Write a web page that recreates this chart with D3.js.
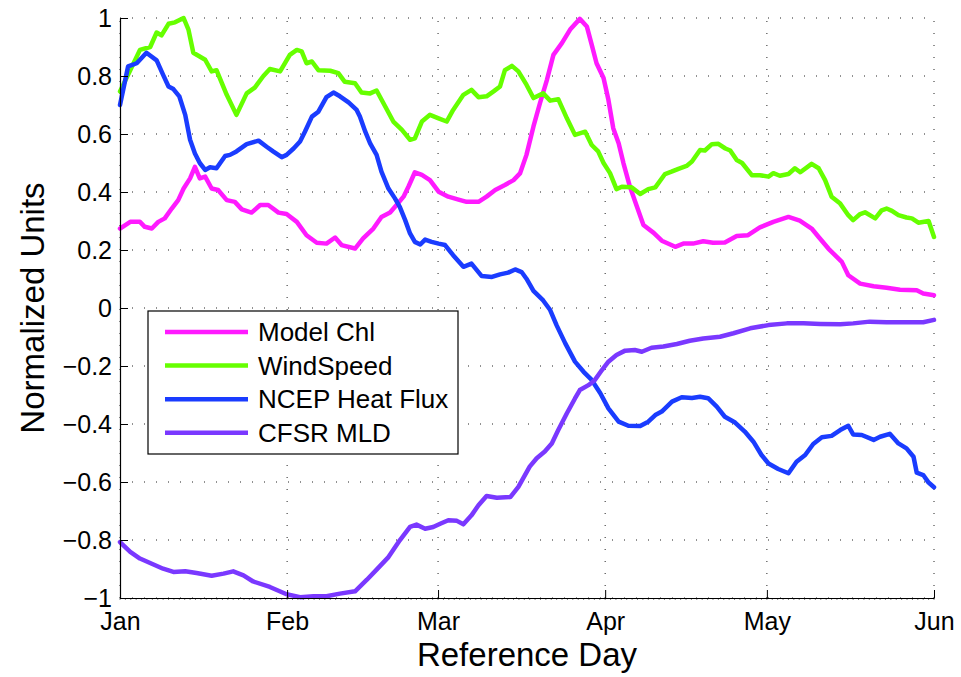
<!DOCTYPE html>
<html>
<head>
<meta charset="utf-8">
<script src="https://cdn.jsdelivr.net/npm/d3@7"></script>
<style>
  body { margin: 0; background: #fff; }
  svg { font-family: "Liberation Sans", Arial, sans-serif; }
</style>
</head>
<body>
<svg id="chart" width="961" height="677"></svg>
<script>
// days since Jan 1 -> month tick positions
const monthDays = [0, 31, 59, 90, 120, 151];
const monthLabels = ["Jan", "Feb", "Mar", "Apr", "May", "Jun"];
const yTicks = [-1, -0.8, -0.6, -0.4, -0.2, 0, 0.2, 0.4, 0.6, 0.8, 1];

// [day, value]
const chl = [[0,0.274],[1.9,0.297],[3.7,0.297],[4.6,0.28],[5.9,0.274],[7.1,0.297],[8.3,0.309],[9.6,0.343],[10.8,0.372],[11.8,0.412],[13.0,0.447],[13.9,0.487],[14.8,0.447],[15.8,0.453],[17.0,0.412],[18.2,0.407],[19.8,0.372],[21.3,0.366],[22.6,0.34],[24.4,0.329],[26.0,0.355],[27.5,0.355],[29.4,0.329],[30.9,0.324],[32.8,0.297],[34.6,0.251],[36.5,0.225],[38.3,0.222],[39.9,0.243],[41.1,0.217],[43.6,0.205],[45.1,0.24],[47.0,0.274],[48.5,0.314],[50.1,0.329],[51.3,0.355],[52.6,0.384],[53.5,0.418],[54.7,0.468],[56.0,0.459],[57.5,0.441],[59.1,0.401],[60.9,0.384],[62.8,0.374],[64.3,0.366],[66.5,0.366],[68.0,0.384],[69.6,0.407],[71.4,0.424],[73.0,0.441],[74.2,0.464],[75.4,0.528],[76.7,0.626],[77.9,0.706],[79.2,0.787],[80.4,0.873],[82.0,0.914],[83.5,0.96],[85.3,0.997],[86.6,0.971],[87.5,0.908],[88.4,0.844],[89.7,0.793],[90.6,0.718],[91.5,0.62],[92.5,0.568],[93.4,0.499],[94.6,0.418],[95.9,0.349],[97.1,0.286],[99.0,0.259],[100.5,0.232],[103.0,0.211],[104.5,0.222],[106.3,0.222],[108.2,0.23],[110.0,0.225],[112.2,0.226],[114.4,0.248],[116.5,0.251],[118.7,0.278],[121.2,0.297],[124.0,0.314],[126.1,0.301],[128.3,0.274],[129.6,0.245],[131.4,0.205],[133.9,0.159],[135.1,0.113],[137.3,0.084],[139.8,0.075],[142.2,0.07],[144.7,0.063],[147.8,0.061],[149.0,0.05],[151,0.044]];

const wind = [[0,0.747],[1.9,0.82],[3.7,0.89],[5.6,0.90],[6.8,0.95],[7.7,0.94],[9.0,0.98],[10.2,0.985],[11.8,1.0],[12.7,0.96],[13.6,0.88],[15.8,0.856],[17.0,0.816],[17.9,0.82],[19.8,0.735],[21.6,0.666],[23.5,0.74],[25.0,0.76],[26.6,0.80],[27.8,0.824],[29.7,0.816],[31.5,0.873],[32.8,0.89],[33.7,0.885],[34.6,0.844],[35.6,0.85],[36.8,0.82],[39.0,0.818],[40.5,0.81],[41.7,0.78],[43.6,0.775],[44.8,0.743],[46.4,0.74],[47.6,0.75],[49.2,0.695],[50.7,0.643],[52.3,0.614],[53.8,0.58],[54.7,0.585],[56.0,0.643],[57.5,0.666],[59.1,0.654],[60.6,0.643],[61.8,0.683],[63.7,0.735],[65.2,0.752],[66.5,0.727],[68.0,0.73],[69.3,0.747],[70.5,0.764],[71.4,0.82],[72.7,0.835],[73.9,0.816],[75.4,0.77],[76.7,0.724],[78.5,0.74],[79.8,0.715],[81.3,0.72],[82.9,0.654],[84.4,0.597],[86.3,0.608],[87.5,0.562],[88.7,0.54],[89.7,0.5],[90.9,0.465],[92.1,0.41],[93.1,0.418],[94.9,0.416],[96.5,0.393],[98.0,0.41],[99.3,0.416],[101.1,0.462],[102.3,0.47],[103.6,0.48],[105.1,0.49],[106.1,0.505],[107.6,0.545],[108.5,0.543],[109.8,0.565],[111.0,0.566],[112.3,0.55],[113.2,0.543],[114.4,0.51],[115.4,0.5],[117.2,0.458],[118.7,0.458],[120.3,0.453],[121.2,0.465],[122.4,0.456],[124.0,0.462],[125.2,0.482],[126.2,0.468],[128.3,0.497],[129.6,0.482],[130.8,0.441],[132.0,0.384],[133.6,0.36],[135.1,0.32],[136.0,0.303],[137.3,0.324],[138.2,0.33],[140.1,0.309],[141.3,0.337],[142.2,0.343],[143.2,0.335],[144.4,0.32],[145.9,0.312],[146.9,0.309],[148.1,0.294],[150.0,0.3],[151,0.245]];

const heat = [[0,0.70],[1.5,0.833],[3.1,0.844],[4.9,0.88],[6.8,0.854],[8.0,0.804],[9.0,0.764],[9.9,0.755],[11.0,0.73],[12.1,0.666],[13.0,0.58],[13.9,0.533],[14.8,0.5],[15.8,0.476],[16.7,0.485],[17.9,0.482],[19.5,0.524],[20.4,0.528],[21.6,0.54],[23.5,0.565],[25.7,0.577],[27.2,0.556],[28.4,0.54],[30.0,0.52],[30.9,0.528],[32.2,0.55],[33.4,0.574],[34.3,0.608],[35.6,0.66],[36.8,0.677],[38.3,0.727],[39.6,0.743],[40.8,0.73],[42.4,0.709],[43.9,0.683],[44.5,0.66],[45.5,0.608],[46.4,0.568],[47.6,0.528],[48.5,0.47],[49.8,0.412],[51.0,0.378],[51.9,0.349],[52.9,0.303],[53.8,0.257],[54.7,0.228],[55.7,0.219],[56.6,0.236],[57.8,0.228],[59.1,0.222],[60.3,0.217],[61.8,0.182],[63.7,0.142],[65.2,0.153],[67.1,0.11],[69.0,0.107],[70.5,0.116],[72.0,0.122],[73.3,0.133],[74.5,0.124],[75.4,0.101],[76.7,0.059],[78.5,0.026],[79.8,-0.007],[81.0,-0.06],[82.6,-0.122],[84.4,-0.185],[86.0,-0.22],[87.5,-0.248],[89.1,-0.294],[90.6,-0.346],[92.5,-0.392],[94.3,-0.406],[96.5,-0.407],[98.0,-0.392],[99.3,-0.369],[100.5,-0.357],[102.4,-0.323],[104.2,-0.308],[106.1,-0.31],[107.6,-0.306],[109.1,-0.311],[110.7,-0.34],[112.2,-0.375],[114.1,-0.395],[115.9,-0.426],[117.5,-0.461],[119.0,-0.507],[120.3,-0.536],[122.1,-0.555],[124.0,-0.57],[125.5,-0.53],[127.1,-0.507],[128.6,-0.469],[130.2,-0.446],[132.0,-0.441],[133.6,-0.421],[135.1,-0.406],[136.0,-0.436],[137.6,-0.438],[139.8,-0.455],[141.0,-0.444],[142.8,-0.434],[144.4,-0.467],[145.9,-0.484],[147.2,-0.513],[147.8,-0.568],[149.0,-0.576],[150.0,-0.602],[151,-0.618]];

const mld = [[0,-0.807],[1.9,-0.841],[3.7,-0.864],[5.9,-0.882],[8.0,-0.899],[9.9,-0.91],[12.1,-0.908],[14.2,-0.914],[17.0,-0.923],[19.2,-0.916],[21.0,-0.908],[22.9,-0.922],[24.7,-0.943],[27.8,-0.962],[30.9,-0.987],[33.4,-0.997],[35.9,-0.994],[38.3,-0.994],[40.8,-0.985],[43.6,-0.977],[45.8,-0.937],[47.6,-0.902],[49.8,-0.859],[51.9,-0.801],[53.8,-0.755],[55.0,-0.747],[56.6,-0.761],[58.1,-0.755],[59.4,-0.744],[60.9,-0.732],[62.5,-0.734],[63.7,-0.746],[65.2,-0.715],[66.5,-0.68],[68.0,-0.648],[69.9,-0.654],[72.4,-0.652],[73.9,-0.617],[76.0,-0.547],[77.3,-0.518],[78.8,-0.495],[80.1,-0.467],[81.3,-0.421],[82.9,-0.363],[84.4,-0.312],[85.3,-0.283],[86.9,-0.266],[88.1,-0.248],[89.4,-0.214],[90.6,-0.185],[92.1,-0.162],[93.7,-0.147],[95.5,-0.145],[96.8,-0.151],[98.6,-0.137],[100.8,-0.133],[103.3,-0.124],[105.7,-0.113],[108.2,-0.105],[111.3,-0.099],[113.8,-0.087],[116.9,-0.07],[120.3,-0.059],[123.7,-0.053],[126.8,-0.053],[129.9,-0.055],[133.6,-0.056],[136.0,-0.053],[139.1,-0.047],[142.2,-0.049],[145.9,-0.049],[149.0,-0.049],[151,-0.041]];

const seriesNames = ["Model Chl", "WindSpeed", "NCEP Heat Flux", "CFSR MLD"];
const seriesData = [chl, wind, heat, mld];
const seriesColors = ["#ff1aff", "#66ff00", "#1a3cff", "#7a38ff"];

const svg = d3.select("#chart");
const margin = { left: 120, right: 27, top: 18, bottom: 79 };
const W = 961, H = 677;

const x = d3.scaleLinear().domain([0, 151]).range([margin.left, W - margin.right]);
const y = d3.scaleLinear().domain([-1, 1]).range([H - margin.bottom, margin.top]);

// dotted grid
const grid = svg.append("g");
grid.selectAll(".gx").data(monthDays).enter().append("line")
  .attr("x1", d => x(d)).attr("x2", d => x(d))
  .attr("y1", y(-1)).attr("y2", y(1))
  .attr("stroke", "#222").attr("stroke-width", 1)
  .attr("stroke-dasharray", "1,11");
grid.selectAll(".gy").data(yTicks).enter().append("line")
  .attr("x1", x(0)).attr("x2", x(151))
  .attr("y1", d => y(d)).attr("y2", d => y(d))
  .attr("stroke", "#222").attr("stroke-width", 1)
  .attr("stroke-dasharray", "1,11");

// series
const line = d3.line().x(d => x(d[0])).y(d => y(d[1])).curve(d3.curveLinear);
seriesData.forEach((s, i) => {
  svg.append("path")
    .datum(s)
    .attr("d", line)
    .attr("fill", "none")
    .attr("stroke", seriesColors[i])
    .attr("stroke-width", 4.5)
    .attr("stroke-linejoin", "round")
    .attr("stroke-linecap", "round");
});

// minor daily ticks on bottom axis
svg.append("g").selectAll("line").data(d3.range(0, 152)).enter().append("line")
  .attr("x1", d => x(d)).attr("x2", d => x(d))
  .attr("y1", y(-1)).attr("y2", y(-1) + 2)
  .attr("stroke", "#666").attr("stroke-width", 0.8);

// axes
const xAxis = d3.axisBottom(x).tickValues(monthDays)
  .tickFormat((d, i) => monthLabels[i]).tickSizeInner(-8).tickSizeOuter(0).tickPadding(14);
const yAxis = d3.axisLeft(y).tickValues(yTicks)
  .tickFormat(d => d === 0 ? "0" : (d < 0 ? "\u2212" : "") + (Math.abs(d) === 1 ? "1" : d3.format(".1f")(Math.abs(d))))
  .tickSizeInner(-8).tickSizeOuter(0).tickPadding(8);

const gx = svg.append("g").attr("transform", `translate(0,${y(-1)})`).call(xAxis);
const gy = svg.append("g").attr("transform", `translate(${x(0)},0)`).call(yAxis);
[gx, gy].forEach(g => {
  g.select(".domain").attr("stroke", "#000").attr("stroke-width", 1.2);
  g.selectAll(".tick line").attr("stroke", "#000").attr("stroke-width", 1);
  g.selectAll("text").attr("font-size", 25).attr("fill", "#000")
    .style("font-family", "'Liberation Sans', Arial, sans-serif");
});
gx.selectAll("text").attr("dy", "0.71em");
gy.selectAll("text").attr("dy", "0.35em");

// axis titles
svg.append("text")
  .attr("x", (x(0) + x(151)) / 2).attr("y", 666)
  .attr("text-anchor", "middle").attr("font-size", 33).text("Reference Day");
svg.append("text")
  .attr("transform", `translate(44,${(y(-1) + y(1)) / 2}) rotate(-90)`)
  .attr("text-anchor", "middle").attr("font-size", 33).text("Normalized Units");

// legend
const legend = svg.append("g").attr("transform", "translate(148,311)");
legend.append("rect").attr("width", 310).attr("height", 143)
  .attr("fill", "#fff").attr("stroke", "#000").attr("stroke-width", 1.2);
seriesNames.forEach((name, i) => {
  const ly = 21 + i * 33.6;
  legend.append("line").attr("x1", 17).attr("x2", 100).attr("y1", ly).attr("y2", ly)
    .attr("stroke", seriesColors[i]).attr("stroke-width", 4.5);
  legend.append("text").attr("x", 110).attr("y", ly).attr("dy", "0.35em")
    .attr("font-size", 26).text(name);
});
</script>
</body>
</html>
